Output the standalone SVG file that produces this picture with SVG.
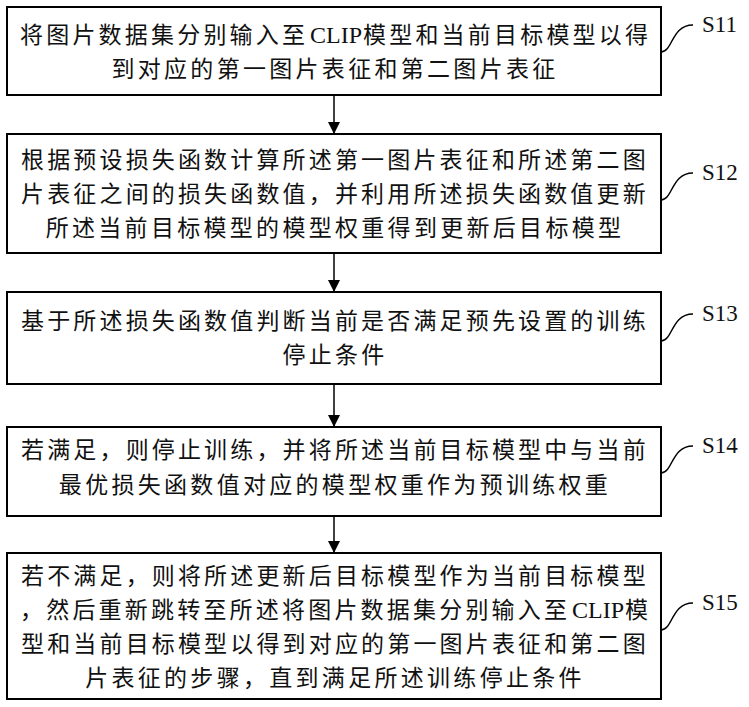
<svg xmlns="http://www.w3.org/2000/svg" width="749" height="707" viewBox="0 0 749 707">
<defs>
<marker id="ah" markerWidth="12" markerHeight="12" viewBox="0 0 12 12" refX="12" refY="6" orient="auto" markerUnits="userSpaceOnUse">
<path d="M0,0 L12,6 L0,12 Z" fill="#000"/>
</marker>
<style>
.box{fill:#fff;stroke:#000;stroke-width:2}
.t{font-family:"Noto Sans CJK SC","Liberation Serif",serif;font-size:23px;fill:#111;text-anchor:middle;letter-spacing:3.3px}
.s{text-anchor:start;letter-spacing:3.2px}
.lat{font-family:"Liberation Serif",serif;font-size:24px;letter-spacing:0}
.lbl{font-family:"Liberation Serif","Times New Roman",serif;font-size:23px;fill:#111}
.ln{fill:none;stroke:#000;stroke-width:1.5}
.cv{fill:none;stroke:#000;stroke-width:1.5}
</style>
</defs>
<rect width="749" height="707" fill="#fff"/>
<g id="connectors">
<line class="ln" x1="334" y1="95" x2="334" y2="134" marker-end="url(#ah)"/>
<line class="ln" x1="334" y1="253" x2="334" y2="292" marker-end="url(#ah)"/>
<line class="ln" x1="334" y1="384" x2="334" y2="427" marker-end="url(#ah)"/>
<line class="ln" x1="334" y1="516" x2="334" y2="553" marker-end="url(#ah)"/>
</g>
<g id="S11">
<rect class="box" x="7" y="7" width="654" height="88"/>
<text class="t s" x="20" y="43">将图片数据集分别输入至<tspan class="lat" x="310">CLIP</tspan><tspan x="363">模型和当前目标模型以得</tspan></text>
<text class="t" x="335" y="77">到对应的第一图片表征和第二图片表征</text>
<path class="cv" d="M661,52 C673,52 671,25 693,25"/>
<text class="lbl" x="702" y="32">S11</text>
</g>
<g id="S12">
<rect class="box" x="7" y="134" width="654" height="119"/>
<text class="t" x="335" y="168" textLength="628" lengthAdjust="spacing">根据预设损失函数计算所述第一图片表征和所述第二图</text>
<text class="t" x="335" y="202" textLength="628" lengthAdjust="spacing">片表征之间的损失函数值，并利用所述损失函数值更新</text>
<text class="t" x="335" y="236">所述当前目标模型的模型权重得到更新后目标模型</text>
<path class="cv" d="M661,200 C673,200 671,173 693,173"/>
<text class="lbl" x="702" y="180">S12</text>
</g>
<g id="S13">
<rect class="box" x="7" y="292" width="654" height="92"/>
<text class="t" x="335" y="329" textLength="628" lengthAdjust="spacing">基于所述损失函数值判断当前是否满足预先设置的训练</text>
<text class="t" x="335" y="363">停止条件</text>
<path class="cv" d="M661,341 C673,341 671,314 693,314"/>
<text class="lbl" x="702" y="321">S13</text>
</g>
<g id="S14">
<rect class="box" x="7" y="427" width="654" height="89"/>
<text class="t" x="335" y="458" textLength="628" lengthAdjust="spacing">若满足，则停止训练，并将所述当前目标模型中与当前</text>
<text class="t" x="335" y="493">最优损失函数值对应的模型权重作为预训练权重</text>
<path class="cv" d="M661,473 C673,473 671,446 693,446"/>
<text class="lbl" x="702" y="453">S14</text>
</g>
<g id="S15">
<rect class="box" x="7" y="553" width="654" height="146"/>
<text class="t" x="335" y="584" textLength="628" lengthAdjust="spacing">若不满足，则将所述更新后目标模型作为当前目标模型</text>
<text class="t s" x="20" y="618">，然后重新跳转至所述将图片数据集分别输入至<tspan class="lat" x="572">CLIP</tspan><tspan x="625">模</tspan></text>
<text class="t" x="335" y="652" textLength="628" lengthAdjust="spacing">型和当前目标模型以得到对应的第一图片表征和第二图</text>
<text class="t" x="335" y="686">片表征的步骤，直到满足所述训练停止条件</text>
<path class="cv" d="M661,630 C673,630 671,603 693,603"/>
<text class="lbl" x="702" y="610">S15</text>
</g>
</svg>
